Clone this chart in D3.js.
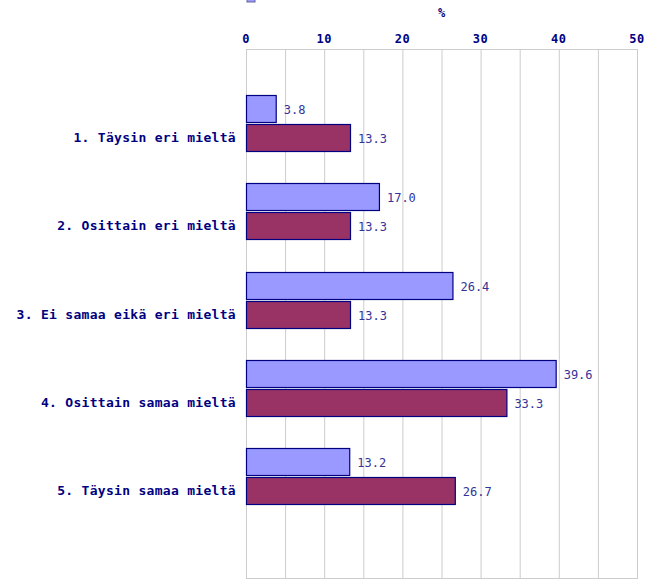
<!DOCTYPE html>
<html>
<head>
<meta charset="utf-8">
<script src="https://cdn.jsdelivr.net/npm/d3@7"></script>
<style>
  body { margin: 0; background: #fff; }
</style>
</head>
<body>
<div id="chart"></div>
<script>
// data
const categories = [
    '1. Täysin eri mieltä',
    '2. Osittain eri mieltä',
    '3. Ei samaa eikä eri mieltä',
    '4. Osittain samaa mieltä',
    '5. Täysin samaa mieltä'
];
const seriesA = [3.8, 17.0, 26.4, 39.6, 13.2];
const seriesB = [13.3, 13.3, 13.3, 33.3, 26.7];
const xTicks = [0, 10, 20, 30, 40, 50];

const W = 651, H = 579;
const plot = { left: 246, right: 637, top: 49, bottom: 578 };
const NAVY = '#000080';
const MONO = "'DejaVu Sans Mono', 'Liberation Mono', monospace";

const svg = d3.select('#chart').append('svg').attr('width', W).attr('height', H);

const x = d3.scaleLinear().domain([0, 50]).range([plot.left, plot.right]);
// label positions sit on band boundaries (6 bands, 5 labels)
const y = d3.scaleLinear().domain([0, categories.length + 1]).range([plot.top, plot.bottom]);

// cropped legend swatch at the very top
svg.append('rect').attr('x', 247).attr('y', -6).attr('width', 8).attr('height', 8)
    .attr('fill', '#9999ff').attr('stroke', '#666699').attr('stroke-width', 1);

// grid
svg.append('g').selectAll('line')
    .data(d3.range(0, 51, 5))
    .join('line')
    .attr('x1', d => x(d) + 0.5).attr('x2', d => x(d) + 0.5)
    .attr('y1', plot.top).attr('y2', plot.bottom)
    .attr('stroke', '#cccccc').attr('stroke-width', 1);
svg.append('line')
    .attr('x1', plot.left).attr('x2', plot.right + 1)
    .attr('y1', plot.top + 0.5).attr('y2', plot.top + 0.5)
    .attr('stroke', '#cccccc');
svg.append('line')
    .attr('x1', plot.left).attr('x2', plot.right + 1)
    .attr('y1', plot.bottom + 0.5).attr('y2', plot.bottom + 0.5)
    .attr('stroke', '#cccccc');

// x ticks (top)
svg.append('g').selectAll('text')
    .data(xTicks)
    .join('text')
    .attr('x', d => x(d)).attr('y', 43)
    .attr('text-anchor', 'middle')
    .attr('font-family', MONO).attr('font-weight', 'bold').attr('font-size', 12)
    .attr('letter-spacing', 0.5)
    .attr('fill', NAVY)
    .text(d => d);

svg.append('text')
    .attr('x', (plot.left + plot.right) / 2).attr('y', 17)
    .attr('text-anchor', 'middle')
    .attr('font-family', MONO).attr('font-weight', 'bold').attr('font-size', 12)
    .attr('fill', NAVY)
    .text('%');

// category labels
svg.append('g').selectAll('text')
    .data(categories)
    .join('text')
    .attr('x', 236).attr('y', (d, i) => y(i + 1) + 5)
    .attr('text-anchor', 'end')
    .attr('font-family', MONO).attr('font-weight', 'bold').attr('font-size', 13)
    .attr('letter-spacing', 0.3)
    .attr('fill', NAVY)
    .text(d => d);

const barH = 27;
const series = [
    { values: seriesA, fill: '#9999ff', offset: -42 },
    { values: seriesB, fill: '#993366', offset: -13 }
];

series.forEach(s => {
    const g = svg.append('g');
    g.selectAll('rect')
        .data(s.values)
        .join('rect')
        .attr('x', x(0) + 0.5)
        .attr('y', (d, i) => Math.round(y(i + 1)) + s.offset + 0.5)
        .attr('width', d => x(d) - x(0))
        .attr('height', barH)
        .attr('fill', s.fill)
        .attr('stroke', NAVY).attr('stroke-width', 1.2);
    g.selectAll('text')
        .data(s.values)
        .join('text')
        .attr('x', d => x(d) + 8)
        .attr('y', (d, i) => Math.round(y(i + 1)) + s.offset + barH / 2 + 5)
        .attr('font-family', MONO).attr('font-size', 12)
        .attr('fill', '#333399')
        .text(d => d.toFixed(1));
});
</script>
</body>
</html>
